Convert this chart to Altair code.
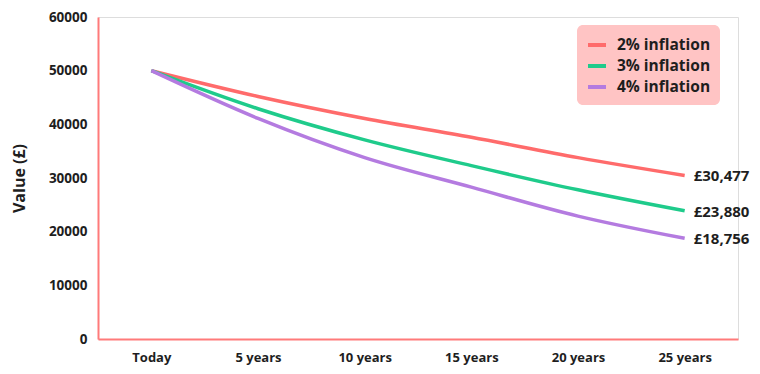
import altair as alt
import pandas as pd

periods = ["Today", "5 years", "10 years", "15 years", "20 years", "25 years"]
series_names = ["2% inflation", "3% inflation", "4% inflation"]
infl_2 = [50000, 45200, 41100, 37600, 33800, 30477]
infl_3 = [50000, 42900, 37100, 32300, 27800, 23880]
infl_4 = [50000, 41100, 33800, 28300, 22900, 18756]
end_labels = ["£30,477", "£23,880", "£18,756"]
y_ticks = [0, 10000, 20000, 30000, 40000, 50000, 60000]
colors = ["#FF6B6B", "#1FCB8B", "#B47BE0"]

rows = []
for name, vals in zip(series_names, [infl_2, infl_3, infl_4]):
    for p, v in zip(periods, vals):
        rows.append({"period": p, "value": v, "series": name})
df = pd.DataFrame(rows)

ends = pd.DataFrame({
    "period": [periods[-1]] * 3,
    "value": [infl_2[-1], infl_3[-1], infl_4[-1]],
    "series": series_names,
    "label": end_labels,
})

FONT = "Open Sans"
INK = "#1E1E1E"

x = alt.X("period:N", sort=periods, title=None,
          scale=alt.Scale(type="point", padding=0.5),
          axis=alt.Axis(labelAngle=0, labelFont=FONT, labelFontWeight="bold",
                        labelFontSize=13, labelColor=INK, labelPadding=12,
                        ticks=False, grid=False, domainColor="#FF7A7A",
                        domainWidth=2))
y = alt.Y("value:Q", title="Value (£)",
          scale=alt.Scale(domain=[0, 60000], nice=False),
          axis=alt.Axis(values=y_ticks, format="d", labelFont=FONT,
                        labelFontWeight="bold", labelFontSize=13.5,
                        labelColor=INK, labelPadding=11, ticks=False,
                        grid=False, domainColor="#FF7A7A", domainWidth=2,
                        titleFont=FONT, titleFontWeight="bold",
                        titleFontSize=16, titleColor=INK,
                        titlePadding=21))
color = alt.Color("series:N", sort=series_names,
                  scale=alt.Scale(domain=series_names, range=colors),
                  legend=alt.Legend(title=None, orient="none", legendX=479,
                                    legendY=8, fillColor="#FFC4C4",
                                    cornerRadius=6, padding=9,
                                    symbolType="stroke", symbolStrokeWidth=4,
                                    symbolSize=324, labelFont=FONT,
                                    labelFontWeight="bold", labelFontSize=15.5,
                                    labelColor=INK, rowPadding=1,
                                    labelOffset=9))

lines = alt.Chart(df).mark_line(strokeWidth=3.5, interpolate="monotone").encode(
    x=x, y=y, color=color)

labels = alt.Chart(ends).mark_text(align="left", baseline="middle", dx=9,
                                   dy=1, font=FONT, fontWeight="bold",
                                   fontSize=15, color=INK).encode(
    x=alt.X("period:N", sort=periods), y="value:Q", text="label:N")

chart = (lines + labels).properties(
    width=640, height=322,
    autosize=alt.AutoSizeParams(type="none"),
    padding={"left": 90, "top": 9, "right": 14, "bottom": 27},
).configure_view(stroke=None).configure(background="white")

chart.save("out.html", embed_options={"renderer": "svg", "actions": False})
